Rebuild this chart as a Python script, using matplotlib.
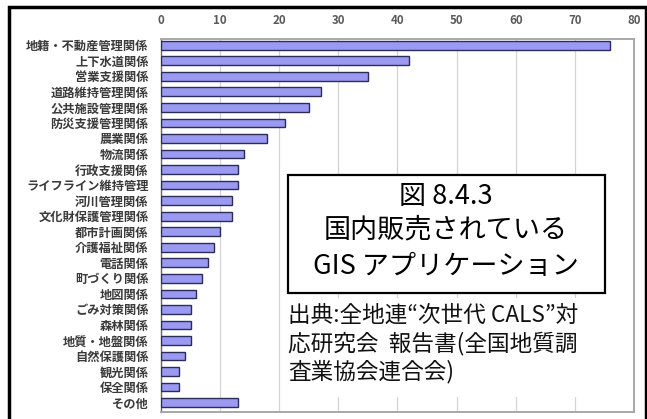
import matplotlib
matplotlib.use("Agg")
from matplotlib import pyplot as plt
from matplotlib.patches import Rectangle

plt.rcParams['font.family'] = ['Noto Sans CJK JP', 'DejaVu Sans']

# GIS application fields and number of products sold in Japan
categories = [
    "地籍・不動産管理関係", "上下水道関係", "営業支援関係", "道路維持管理関係",
    "公共施設管理関係", "防災支援管理関係", "農業関係", "物流関係",
    "行政支援関係", "ライフライン維持管理", "河川管理関係", "文化財保護管理関係",
    "都市計画関係", "介護福祉関係", "電話関係", "町づくり関係",
    "地図関係", "ごみ対策関係", "森林関係", "地質・地盤関係",
    "自然保護関係", "観光関係", "保全関係", "その他",
]
counts = [76, 42, 35, 27, 25, 21, 18, 14, 13, 13, 12, 12,
          10, 9, 8, 7, 6, 5, 5, 5, 4, 3, 3, 13]
xticks = [0, 10, 20, 30, 40, 50, 60, 70, 80]

title_lines = ["図 8.4.3", "国内販売されている", "GIS アプリケーション"]
source_lines = ["出典:全地連“次世代 CALS”対",
                "応研究会  報告書(全国地質調",
                "査業協会連合会)"]

W, H = 647, 419
fig = plt.figure(figsize=(W / 100, H / 100), dpi=100)
fig.patch.set_facecolor("white")

def fx(px):
    return px / W

def fy(py):
    return 1 - py / H

ax = fig.add_axes([fx(161), fy(412), fx(634) - fx(161), fy(39) - fy(412)])
ypos = list(range(len(categories)))
ax.barh(ypos, counts, height=0.56, color="#9a9af2", edgecolor="#2c2c58",
        linewidth=1.0, zorder=3)

ax.set_xlim(0, 80)
ax.set_ylim(len(categories) - 0.4, -0.4)
ax.set_xticks(xticks)
ax.set_yticks(ypos)
ax.set_yticklabels(categories, fontsize=8.8, color="#3a3a3a", fontweight="bold")
ax.xaxis.tick_top()
for lbl in ax.get_xticklabels():
    lbl.set_fontweight("bold")
ax.tick_params(axis="x", length=0, pad=9, labelsize=8.3, labelcolor="#5a5a5a")
ax.tick_params(axis="y", length=0, pad=9)
ax.grid(axis="x", color="#d4d4d4", linewidth=0.9, zorder=0)
ax.set_axisbelow(True)
for side in ("top", "right", "bottom"):
    ax.spines[side].set_color("#a8a8a8")
    ax.spines[side].set_linewidth(1.4)
ax.spines["left"].set_color("#666666")
ax.spines["left"].set_linewidth(1.0)

# outer black frame
fig.patches.append(Rectangle((fx(9), -0.05), fx(646) - fx(9), fy(7) + 0.05,
                             transform=fig.transFigure, fill=False,
                             edgecolor="black", linewidth=2.5, zorder=1))

# white area behind the source note
fig.patches.append(Rectangle((fx(283), fy(397)), fx(632) - fx(283), fy(298) - fy(397),
                             transform=fig.transFigure, facecolor="white",
                             edgecolor="none", zorder=5))
for py, line in zip([315, 344, 372], source_lines):
    fig.text(fx(288), fy(py), line, fontsize=16.3, color="#111111",
             ha="left", va="center", zorder=6)

# figure caption box
fig.patches.append(Rectangle((fx(288), fy(293)), fx(605) - fx(288), fy(175) - fy(293),
                             transform=fig.transFigure, facecolor="white",
                             edgecolor="black", linewidth=1.6, zorder=5))
for py, line in zip([196, 230, 266], title_lines):
    fig.text(fx(446), fy(py), line, fontsize=19.5, color="black",
             ha="center", va="center", zorder=6)

fig.savefig("out.png", dpi=100)
